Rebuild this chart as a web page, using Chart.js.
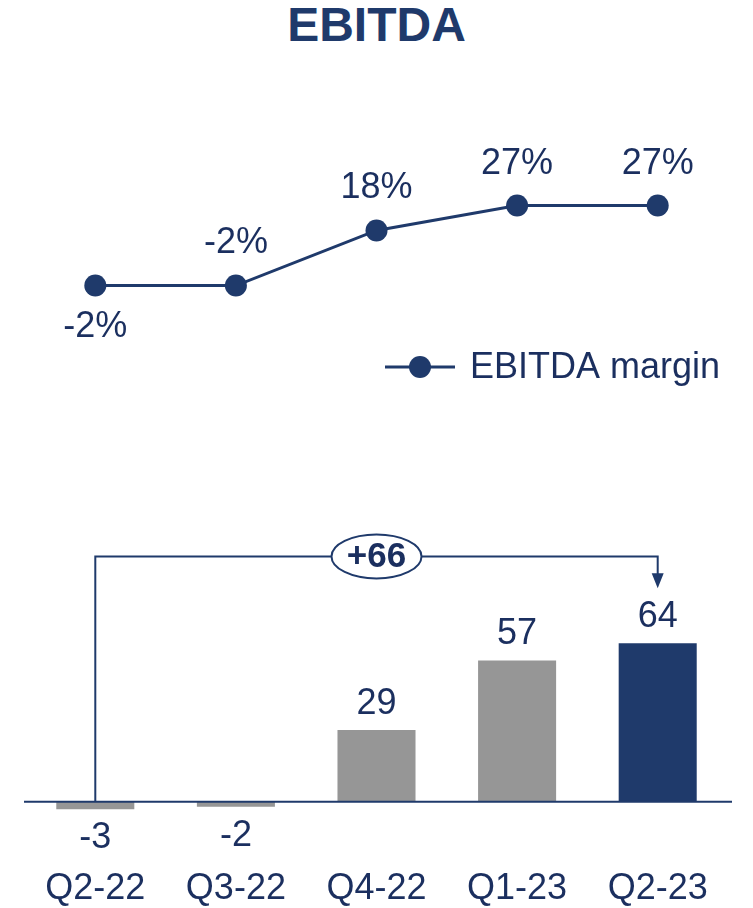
<!DOCTYPE html>
<html>
<head>
<meta charset="utf-8">
<script src="https://cdn.jsdelivr.net/npm/chart.js@4/dist/chart.umd.min.js"></script>
<style>
  body { margin: 0; background: #fff; width: 753px; height: 908px; position: relative; overflow: hidden; }
  #title { position: absolute; top: 0; left: 0; width: 753px; text-align: center;
           font: bold 48px "Liberation Sans", Arial, sans-serif; color: #1f3a6b; line-height: 50px; }
  canvas { position: absolute; left: 0; }
</style>
</head>
<body>
<div id="title">EBITDA</div>
<canvas id="margin" width="753" height="340" style="top:60px"></canvas>
<canvas id="ebitda" width="753" height="511" style="top:400px"></canvas>
<script>
const quarters = ['Q2-22', 'Q3-22', 'Q4-22', 'Q1-23', 'Q2-23']
const marginPct = [-2, -2, 18, 27, 27]
const ebitdaValues = [-3, -2, 29, 57, 64]
const growthLabel = '+66'

const navy = '#1f3a6b'
const textNavy = '#1b2f5f'
const grey = '#969696'
const font = '"Liberation Sans", Arial, sans-serif'

// percentage labels, first one sits under its point
const marginLabels = {
    id: 'marginLabels',
    afterDatasetsDraw(chart) {
        const ctx = chart.ctx
        const meta = chart.getDatasetMeta(0)
        ctx.save()
        ctx.font = '36px ' + font
        ctx.fillStyle = textNavy
        ctx.textAlign = 'center'
        ctx.textBaseline = 'middle'
        meta.data.forEach((pt, i) => {
            const dy = i == 0 ? 42 : -42
            ctx.fillText(marginPct[i] + '%', pt.x, pt.y + dy)
        })
        // legend
        const ly = 307
        ctx.strokeStyle = navy
        ctx.lineWidth = 3
        ctx.beginPath()
        ctx.moveTo(385, ly)
        ctx.lineTo(455, ly)
        ctx.stroke()
        ctx.fillStyle = navy
        ctx.beginPath()
        ctx.arc(420, ly, 11, 0, Math.PI * 2)
        ctx.fill()
        ctx.fillStyle = textNavy
        ctx.textAlign = 'left'
        ctx.fillText('EBITDA margin', 470, ly + 1)
        ctx.restore()
    }
}

new Chart('margin', {
    type: 'line',
    data: {
        labels: quarters,
        datasets: [{
            label: 'EBITDA margin',
            data: marginPct,
            borderColor: navy,
            backgroundColor: navy,
            borderWidth: 3,
            pointRadius: 11,
            pointBackgroundColor: navy,
            pointBorderWidth: 0,
            tension: 0
        }]
    },
    options: {
        responsive: false,
        animation: false,
        layout: { padding: { left: 25, right: 25, top: 0, bottom: 0 } },
        plugins: { legend: { display: false }, tooltip: { enabled: false } },
        scales: {
            x: { display: false, offset: true },
            y: { display: false, min: -39.5, max: 75.8 }
        }
    },
    plugins: [marginLabels]
})

// bar values, zero line and the +66 bracket
const barExtras = {
    id: 'barExtras',
    afterDatasetsDraw(chart) {
        const ctx = chart.ctx
        const meta = chart.getDatasetMeta(0)
        const x = chart.scales.x
        const y = chart.scales.y
        const zero = y.getPixelForValue(0)
        ctx.save()

        ctx.strokeStyle = navy
        ctx.lineWidth = 2
        ctx.beginPath()
        ctx.moveTo(chart.chartArea.left - 1, zero)
        ctx.lineTo(chart.chartArea.right + 4, zero)
        ctx.stroke()

        ctx.font = '36px ' + font
        ctx.fillStyle = textNavy
        ctx.textAlign = 'center'
        ctx.textBaseline = 'middle'
        meta.data.forEach((bar, i) => {
            const v = ebitdaValues[i]
            ctx.fillText(String(v), bar.x, v < 0 ? bar.y + 29 : bar.y - 26)
        })

        const x0 = x.getPixelForValue(0)
        const x1 = x.getPixelForValue(quarters.length - 1)
        const top = y.getPixelForValue(99)
        const tip = meta.data[quarters.length - 1].y - 55
        ctx.lineWidth = 2
        ctx.beginPath()
        ctx.moveTo(x0, zero)
        ctx.lineTo(x0, top)
        ctx.lineTo(x1, top)
        ctx.lineTo(x1, tip - 12)
        ctx.stroke()
        ctx.fillStyle = navy
        ctx.beginPath()
        ctx.moveTo(x1 - 6, tip - 15)
        ctx.lineTo(x1 + 6, tip - 15)
        ctx.lineTo(x1, tip)
        ctx.closePath()
        ctx.fill()

        const cx = (x0 + x1) / 2
        ctx.fillStyle = '#fff'
        ctx.beginPath()
        ctx.ellipse(cx, top, 45, 22, 0, 0, Math.PI * 2)
        ctx.fill()
        ctx.stroke()
        ctx.fillStyle = textNavy
        ctx.font = 'bold 35px ' + font
        ctx.fillText(growthLabel, cx, top + 1)
        ctx.restore()
    }
}

new Chart('ebitda', {
    type: 'bar',
    data: {
        labels: quarters,
        datasets: [{
            label: 'EBITDA',
            data: ebitdaValues,
            backgroundColor: ebitdaValues.map((v, i) => i == ebitdaValues.length - 1 ? navy : grey),
            categoryPercentage: 1,
            barPercentage: 0.555
        }]
    },
    options: {
        responsive: false,
        animation: false,
        layout: { padding: { left: 25, right: 25, top: 0, bottom: 0 } },
        plugins: { legend: { display: false }, tooltip: { enabled: false } },
        scales: {
            x: {
                grid: { display: false },
                border: { display: false },
                ticks: { color: textNavy, font: { size: 36, family: font }, padding: 0, maxRotation: 0, autoSkip: false }
            },
            y: { display: false, min: -23.4, max: 162.1 }
        }
    },
    plugins: [barExtras]
})
</script>
</body>
</html>
